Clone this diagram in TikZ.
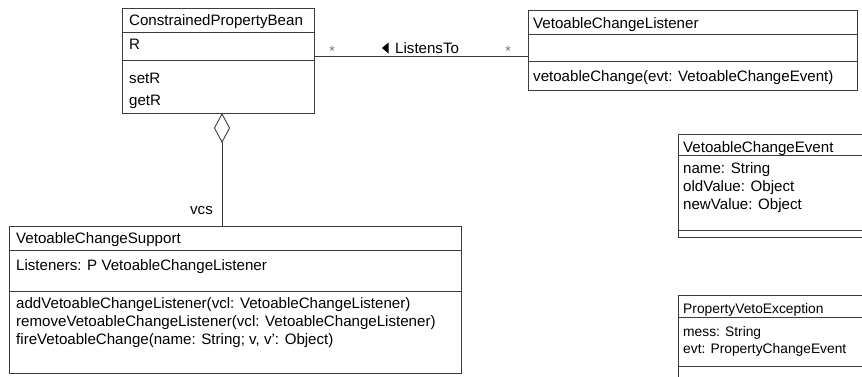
\documentclass[tikz,border=0pt]{standalone}
\usepackage{fontspec}
\setmainfont{Liberation Sans}
\usetikzlibrary{arrows.meta}
\definecolor{linec}{RGB}{60,60,60}
\begin{document}
\begin{tikzpicture}[x=1pt,y=-1pt,
  box/.style={draw=linec, line width=0.9pt, inner sep=0pt, outer sep=0pt, anchor=north west},
  sep/.style={draw=linec, line width=0.9pt},
  txt/.style={anchor=base west, inner sep=0pt, font=\fontsize{15.1}{17}\selectfont},
  stxt/.style={txt, font=\fontsize{13.8}{16}\selectfont},
  mult/.style={anchor=base, inner sep=0pt, font=\fontsize{15}{16}\selectfont, text=black!50},
  conn/.style={draw=linec, line width=0.9pt}]
\useasboundingbox (0,0) rectangle (862,376);
\begin{scope}
\clip (0,0) rectangle (862,376);
% ConstrainedPropertyBean
\node[box, minimum width=192pt, minimum height=105pt] (cpb) at (122,8) {};
\draw[sep] (cpb.west |- 0,32) -- (cpb.east |- 0,32);
\draw[sep] (cpb.west |- 0,60) -- (cpb.east |- 0,60);
\node[txt] (cpbn) at (129,25) {ConstrainedPropertyBean};
\node[txt] (cpba) at (129,49) {R};
\node[txt] (cpbm1) at (129,83) {setR};
\node[txt] (cpbm2) at (129,105) {getR};
% VetoableChangeListener
\node[box, minimum width=329pt, minimum height=80pt] (vcl) at (528,10) {};
\draw[sep] (vcl.west |- 0,34) -- (vcl.east |- 0,34);
\draw[sep] (vcl.west |- 0,61) -- (vcl.east |- 0,61);
\node[txt] (vcln) at (533,28) {VetoableChangeListener};
\node[txt] (vclm) at (533,81) {vetoableChange(evt: VetoableChangeEvent)};
% VetoableChangeSupport
\node[box, minimum width=452pt, minimum height=147pt] (vcs) at (9,226) {};
\draw[sep] (vcs.west |- 0,250) -- (vcs.east |- 0,250);
\draw[sep] (vcs.west |- 0,291) -- (vcs.east |- 0,291);
\node[txt] (vcsn) at (16,243) {VetoableChangeSupport};
\node[txt] (vcsa) at (16,270) {Listeners: P VetoableChangeListener};
\node[txt] (vcsm1) at (16,308) {addVetoableChangeListener(vcl: VetoableChangeListener)};
\node[txt] (vcsm2) at (16,326) {removeVetoableChangeListener(vcl: VetoableChangeListener)};
\node[txt] (vcsm3) at (16,344) {fireVetoableChange(name: String; v, v': Object)};
% VetoableChangeEvent
\node[box, minimum width=240pt, minimum height=103pt] (vce) at (678,134) {};
\draw[sep] (vce.west |- 0,155) -- (vce.east |- 0,155);
\draw[sep] (vce.west |- 0,230) -- (vce.east |- 0,230);
\node[txt] (vcen) at (683,152) {VetoableChangeEvent};
\node[txt] (vcea1) at (683,173) {name: String};
\node[txt] (vcea2) at (683,191) {oldValue: Object};
\node[txt] (vcea3) at (683,209) {newValue: Object};
% PropertyVetoException
\node[box, minimum width=240pt, minimum height=110pt] (pve) at (678,295) {};
\draw[sep] (pve.west |- 0,317) -- (pve.east |- 0,317);
\draw[sep] (pve.west |- 0,366) -- (pve.east |- 0,366);
\node[stxt] (pven) at (683,313) {PropertyVetoException};
\node[stxt] (pvea1) at (683,336) {mess: String};
\node[stxt] (pvea2) at (683,353) {evt: PropertyChangeEvent};
\end{scope}
% association ListensTo
\coordinate (as) at (0,56);
\draw[conn] (cpb.east |- as) -- (vcl.west |- as);
\node[mult] (m1) at (332,56) {*};
\node[mult] (m2) at (508,56) {*};
\fill[black] (382,48) -- (388.5,42.5) -- (388.5,53.5) -- cycle;
\node[txt] (lt) at (395,53) {ListensTo};
% aggregation vcs
\coordinate (ag) at (222,0);
\draw[conn, -{Diamond[open, length=30pt, width=16pt]}] (ag |- vcs.north) -- (ag |- cpb.south);
\node[txt, anchor=base east] (vcsl) at (213,214) {vcs};
\end{tikzpicture}
\end{document}
